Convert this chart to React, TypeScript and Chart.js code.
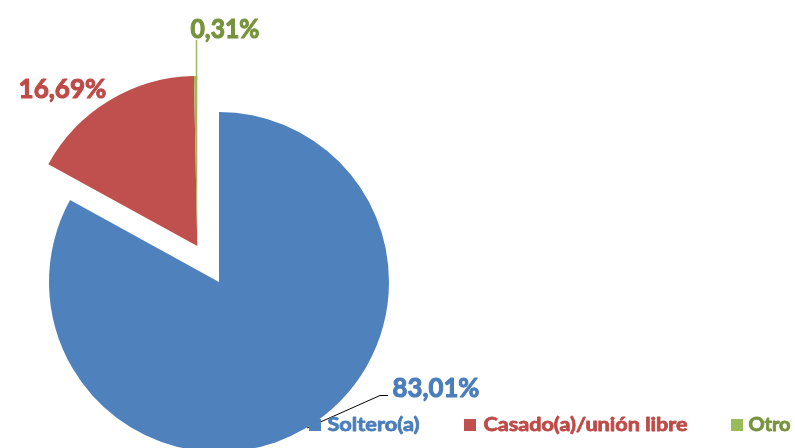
import React, { useEffect, useRef } from "react";
import { Chart, registerables } from "chart.js";

Chart.register(...registerables);

const categories = ["Soltero(a)", "Casado(a)/unión libre", "Otro"];
const values = [83.01, 16.69, 0.31];
const valueLabels = ["83,01%", "16,69%", "0,31%"];
const sliceColors = ["#4F81BD", "#C0504D", "#9BBB59"];
const textColors = ["#4A7EBB", "#BE4B48", "#77933C"];

const FONT = "Lato, 'Open Sans', sans-serif";

function drawFitted(
  ctx: CanvasRenderingContext2D,
  text: string,
  x: number,
  y: number,
  size: number,
  width: number,
  thick: number
) {
  ctx.font = `bold ${size}px ${FONT}`;
  const w = ctx.measureText(text).width;
  const sx = (width - thick) / w;
  ctx.save();
  ctx.translate(x + thick / 2, y);
  ctx.scale(sx, 1);
  ctx.fillText(text, 0, 0);
  ctx.lineWidth = thick;
  ctx.lineJoin = "round";
  ctx.strokeStyle = ctx.fillStyle as string;
  ctx.strokeText(text, 0, 0);
  ctx.restore();
}

const explodePlugin = {
  id: "explode",
  afterDatasetsUpdate(chart: any) {
    const meta = chart.getDatasetMeta(0);
    const red = meta.data[1];
    const mid = (red.startAngle + red.endAngle) / 2;
    const dist = 42;
    const dx = Math.cos(mid) * dist;
    const dy = Math.sin(mid) * dist;
    [1, 2].forEach((i) => {
      meta.data[i].x += dx;
      meta.data[i].y += dy;
    });
  },
};

const annotatePlugin = {
  id: "annotate",
  afterDraw(chart: any) {
    const ctx: CanvasRenderingContext2D = chart.ctx;
    ctx.save();
    // leader lines
    ctx.strokeStyle = sliceColors[2];
    ctx.lineWidth = 1.5;
    ctx.beginPath();
    ctx.moveTo(196.5, 40);
    ctx.lineTo(196.5, 80);
    ctx.stroke();

    ctx.strokeStyle = "#000000";
    ctx.lineWidth = 1;
    ctx.beginPath();
    ctx.moveTo(388, 395.5);
    ctx.lineTo(380, 395.5);
    ctx.lineTo(307, 428);
    ctx.stroke();

    // value labels
    ctx.textBaseline = "alphabetic";
    ctx.textAlign = "left";
    const lbl = [
      { i: 0, x: 392, y: 397, w: 88 },
      { i: 1, x: 18, y: 98, w: 89 },
      { i: 2, x: 190, y: 38, w: 70 },
    ];
    lbl.forEach((l) => {
      ctx.fillStyle = textColors[l.i];
      drawFitted(ctx, valueLabels[l.i], l.x, l.y, 27.5, l.w, 1.1);
    });

    // legend
    const leg = [
      { sx: 309, tx: 327, w: 93 },
      { sx: 464, tx: 483, w: 205 },
      { sx: 731, tx: 748, w: 43 },
    ];
    leg.forEach((l, i) => {
      ctx.fillStyle = sliceColors[i];
      ctx.fillRect(l.sx, 419, 12, 12);
      ctx.fillStyle = textColors[i];
      drawFitted(ctx, categories[i], l.tx, 431, 19.5, l.w, 0.8);
    });
    ctx.restore();
  },
};

export default function App() {
  const ref = useRef<HTMLCanvasElement>(null);
  useEffect(() => {
    if (!ref.current) return;
    const chart = new Chart(ref.current, {
      type: "pie",
      data: {
        labels: categories,
        datasets: [
          {
            data: values,
            backgroundColor: sliceColors,
            borderWidth: 0,
          },
        ],
      },
      options: {
        responsive: false,
        animation: false,
        events: [],
        radius: 170,
        layout: { padding: { left: 0, right: 357, top: 0, bottom: 36 } },
        plugins: {
          legend: { display: false },
          tooltip: { enabled: false },
        },
      } as any,
      plugins: [explodePlugin, annotatePlugin],
    });
    return () => chart.destroy();
  }, []);
  return (
    <div
      style={{
        position: "fixed",
        left: 0,
        top: 0,
        width: 795,
        height: 448,
        overflow: "hidden",
        background: "#ffffff",
      }}
    >
      <canvas ref={ref} width={795} height={600} style={{ width: 795, height: 600, display: "block" }} />
    </div>
  );
}
